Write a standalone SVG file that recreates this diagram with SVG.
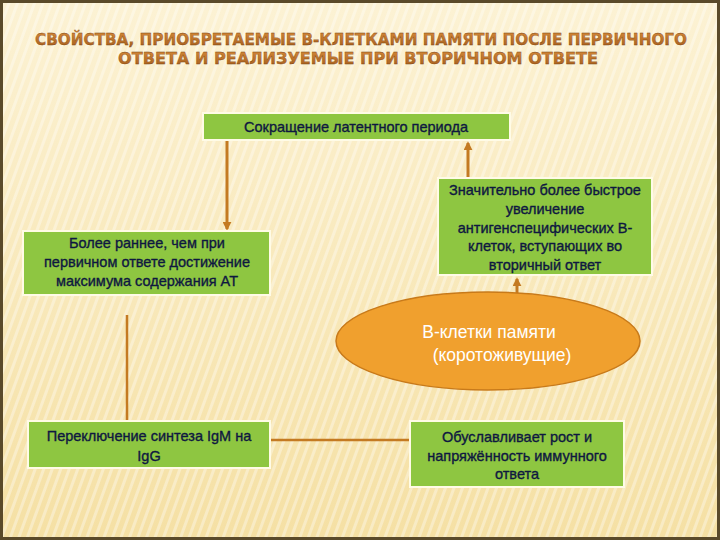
<svg xmlns="http://www.w3.org/2000/svg" width="720" height="540" viewBox="0 0 720 540">
<defs>
<linearGradient id="bg" x1="0" y1="0" x2="0" y2="1">
<stop offset="0" stop-color="#fcf2d4"/>
<stop offset="1" stop-color="#f5e0a4"/>
</linearGradient>
<pattern id="stripes" width="8" height="8" patternUnits="userSpaceOnUse" patternTransform="rotate(20)">
<rect width="3" height="8" fill="#ffffff" opacity="0.35"/>
</pattern>
<linearGradient id="title" x1="0" y1="0" x2="0" y2="1">
<stop offset="0" stop-color="#d98c3a"/>
<stop offset="1" stop-color="#a05a1c"/>
</linearGradient>
<marker id="ah" viewBox="0 0 10 10" refX="8" refY="5" markerWidth="3" markerHeight="3" orient="auto">
<path d="M0,0 L10,5 L0,10 z" fill="#c47a22"/>
</marker>
<style>
.box{fill:#8ec641;stroke:#fffbe6;stroke-width:2}
.t{font-family:"Liberation Sans",Arial,sans-serif;font-size:14.5px;fill:#0e1840;stroke:#0e1840;stroke-width:0.35;text-anchor:middle}
.e{font-family:"Liberation Sans",Arial,sans-serif;font-size:17.5px;fill:#ffffff;text-anchor:middle}
.ttl{font-family:"DejaVu Sans Condensed","Liberation Sans",sans-serif;font-weight:bold;font-size:16px;fill:url(#title);stroke:#7a4010;stroke-width:0.3;text-anchor:middle}
.c{stroke:#c47a22;stroke-width:3;fill:none}
.l{stroke:#c47a22;stroke-width:2.5;fill:none}
</style>
</defs>
<rect x="0" y="0" width="720" height="540" fill="url(#bg)"/>
<rect x="0" y="0" width="720" height="540" fill="url(#stripes)"/>
<rect x="1.5" y="1.5" width="717" height="537" fill="none" stroke="#5a4a2a" stroke-width="3"/>
<g id="title">
<text class="ttl" x="361" y="45" textLength="652" lengthAdjust="spacingAndGlyphs">СВОЙСТВА, ПРИОБРЕТАЕМЫЕ  В-КЛЕТКАМИ  ПАМЯТИ ПОСЛЕ ПЕРВИЧНОГО</text>
<text class="ttl" x="358" y="64" textLength="480" lengthAdjust="spacingAndGlyphs">ОТВЕТА  И  РЕАЛИЗУЕМЫЕ  ПРИ  ВТОРИЧНОМ  ОТВЕТЕ</text>
</g>
<g id="connectors">
<line class="c" x1="227" y1="141" x2="227" y2="229" marker-end="url(#ah)"/>
<line class="c" x1="468" y1="177" x2="468" y2="143" marker-end="url(#ah)"/>
<line class="c" x1="517" y1="294" x2="517" y2="279" marker-end="url(#ah)"/>
<line class="l" x1="127" y1="315" x2="127" y2="421"/>
<line class="l" x1="270" y1="440" x2="410" y2="440"/>
</g>
<g id="n1">
<rect class="box" x="203" y="113" width="307" height="27"/>
<text class="t" x="356" y="132">Сокращение латентного периода</text>
</g>
<g id="n2">
<rect class="box" x="23" y="231" width="247" height="64"/>
<text class="t" x="147" y="248">Более раннее, чем при</text>
<text class="t" x="147" y="267">первичном ответе достижение</text>
<text class="t" x="147" y="286">максимума содержания АТ</text>
</g>
<g id="n3">
<rect class="box" x="438" y="178" width="214" height="97"/>
<text class="t" x="545" y="195">Значительно более быстрое</text>
<text class="t" x="545" y="214">увеличение</text>
<text class="t" x="545" y="233">антигенспецифических В-</text>
<text class="t" x="545" y="251">клеток, вступающих во</text>
<text class="t" x="545" y="270">вторичный ответ</text>
</g>
<g id="n4">
<ellipse cx="488" cy="341" rx="152" ry="49" fill="#f0a02e" stroke="#c87a1a" stroke-width="1.5"/>
<text class="e" x="489" y="338">В-клетки памяти</text>
<text class="e" x="502" y="361">(коротоживущие)</text>
</g>
<g id="n5">
<rect class="box" x="28" y="421" width="242" height="47"/>
<text class="t" x="149" y="441">Переключение синтеза IgM на</text>
<text class="t" x="149" y="461">IgG</text>
</g>
<g id="n6">
<rect class="box" x="410" y="421" width="214" height="66"/>
<text class="t" x="517" y="442">Обуславливает рост и</text>
<text class="t" x="517" y="461">напряжённость иммунного</text>
<text class="t" x="517" y="479">ответа</text>
</g>
</svg>
